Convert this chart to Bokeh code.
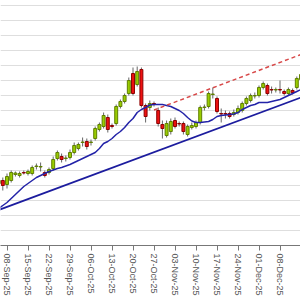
import pandas as pd
from bokeh.plotting import figure
from bokeh.models import Range1d, FixedTicker, ColumnDataSource
from bokeh.embed import file_html
from bokeh.resources import INLINE

# trading days, index 0 = 08-Sep-25
dates = pd.bdate_range("2025-09-04", "2025-12-15")
idx = list(range(-2, -2 + len(dates)))

opens = [63.4, 64.0, 63.2, 64.0, 65.2, 65.0, 65.6, 65.4, 65.4, 66.8, 66.7, 65.6, 65.6,
         66.4, 68.4, 68.8, 68.4, 68.6, 69.6, 70.4, 71.6, 71.8, 71.6,
         72.4, 74.2, 74.8, 76.6, 75.0, 75.4, 78.8, 79.8, 81.4, 85.4,
         83.2, 86.2, 79.0, 78.6, 79.4, 78.0, 75.2, 73.0, 73.8, 76.0,
         75.4, 75.4, 73.2, 74.6, 74.8, 75.6, 78.6, 78.8, 81.2, 80.4,
         77.4, 77.4, 77.4, 77.2, 77.6, 78.0, 79.4, 80.0, 80.9, 81.0,
         82.6, 83.0, 82.2, 82.1, 82.2, 81.8, 81.4, 82.0, 82.6, 84.2]
closes = [64.0, 63.0, 64.8, 65.6, 65.5, 65.4, 65.5, 65.8, 66.6, 66.9, 66.8, 65.0, 66.2,
          68.2, 69.6, 68.2, 68.5, 69.6, 71.0, 71.2, 71.7, 70.8, 71.7,
          74.4, 75.2, 77.0, 74.2, 74.8, 78.8, 79.8, 81.0, 84.0, 81.4,
          85.8, 79.0, 76.8, 79.4, 79.3, 75.4, 74.4, 75.4, 75.8, 74.8,
          75.3, 73.8, 74.8, 75.0, 75.6, 78.6, 78.7, 81.4, 81.3, 77.8,
          77.3, 77.3, 76.8, 77.6, 78.4, 79.4, 80.4, 81.0, 81.0, 82.6,
          83.4, 81.4, 82.1, 82.2, 82.1, 81.4, 82.2, 81.6, 84.4, 85.2]
highs = [64.4, 64.6, 65.4, 66.0, 65.8, 65.8, 66.0, 66.2, 67.0, 67.4, 67.6, 66.0, 66.6,
         68.8, 70.0, 69.4, 69.0, 70.2, 71.6, 71.6, 72.6, 72.4, 72.2,
         74.8, 75.6, 77.6, 77.2, 75.4, 79.2, 80.2, 81.4, 84.6, 86.6,
         86.8, 86.6, 79.4, 80.0, 79.8, 78.6, 76.0, 76.0, 76.4, 76.6,
         75.8, 75.8, 75.2, 75.6, 76.0, 79.0, 79.2, 81.8, 82.6, 80.8,
         78.4, 78.0, 77.8, 78.2, 79.0, 79.8, 80.8, 81.4, 81.6, 83.0,
         83.8, 83.4, 82.8, 82.6, 84.0, 82.2, 82.6, 82.4, 84.8, 85.6]
lows = [62.8, 62.0, 62.4, 63.6, 64.8, 64.6, 65.2, 65.0, 65.0, 66.2, 65.8, 64.6, 65.2,
        66.0, 68.0, 67.6, 67.8, 68.2, 69.2, 70.0, 70.8, 70.2, 71.0,
        72.0, 73.8, 74.4, 73.6, 74.4, 75.0, 78.4, 79.4, 81.0, 81.0,
        82.8, 78.6, 75.6, 78.0, 78.8, 74.8, 72.4, 72.6, 73.2, 74.4,
        74.8, 73.2, 72.8, 74.2, 74.4, 75.2, 78.0, 78.4, 80.4, 77.4,
        75.6, 76.4, 76.4, 76.8, 77.2, 77.6, 79.0, 79.6, 80.4, 80.6,
        82.2, 81.0, 81.4, 81.6, 81.4, 81.0, 81.0, 81.2, 82.2, 83.8]
moving_avg = [58.4, 59.0, 59.6, 60.4, 61.2, 62.0, 62.8, 63.4, 64.0, 64.6, 65.0, 65.4, 65.8,
              66.1, 66.4, 66.6, 66.9, 67.2, 67.6, 68.0, 68.4, 68.8, 69.2,
              69.6, 70.4, 71.4, 71.8, 72.4, 73.2, 73.8, 74.6, 75.6, 76.4,
              77.6, 78.2, 78.6, 79.1, 79.2, 79.2, 79.2, 79.0, 78.8, 78.4,
              78.0, 77.4, 76.6, 75.9, 75.6, 75.6, 75.7, 75.8, 76.2, 76.8,
              77.0, 77.1, 77.2, 77.3, 77.6, 78.2, 78.6, 79.0, 79.2, 79.6,
              79.6, 79.6, 79.8, 80.0, 80.2, 80.6, 81.0, 81.4, 81.8, 82.2]

support_dates = ["2025-09-04", "2025-12-15"]
support_vals = [58.1, 80.6]
resist_dates = ["2025-10-27", "2025-12-15"]
resist_vals = [78.1, 89.2]

grid_levels = [99, 96, 93, 90, 87, 84, 81, 78, 75, 72, 69, 66, 63, 60, 57, 54]

pos = {d.strftime("%Y-%m-%d"): i for d, i in zip(dates, idx)}
mondays = [i for d, i in zip(dates, idx) if d.weekday() == 0]
tick_labels = {i: d.strftime("%d-%b-%y") for d, i in zip(dates, idx) if d.weekday() == 0}

up = [c >= o for o, c in zip(opens, closes)]
src = ColumnDataSource(dict(
    x=idx, o=opens, c=closes, h=highs, l=lows, ma=moving_avg,
    top=[max(o, c) for o, c in zip(opens, closes)],
    bot=[min(o, c) for o, c in zip(opens, closes)],
    fill=["#99cc00" if u else "#ee1111" for u in up],
    line=["#5f7f00" if u else "#8c0000" for u in up],
))

p = figure(frame_width=300, frame_height=245, x_range=Range1d(-1.548, 69.88),
           y_range=Range1d(51, 100), output_backend="svg", toolbar_location=None,
           min_border=0)
p.outline_line_color = None
p.background_fill_color = "white"
p.border_fill_color = "white"

p.yaxis.visible = False
p.ygrid.ticker = FixedTicker(ticks=grid_levels)
p.ygrid.grid_line_color = "#dedede"
p.ygrid.grid_line_width = 1
p.xgrid.visible = False

ax = p.xaxis[0]
ax.ticker = FixedTicker(ticks=mondays)
ax.major_label_overrides = tick_labels
ax.major_label_orientation = "vertical"
ax.major_label_text_font = "Liberation Sans"
ax.major_label_text_font_size = "9px"
ax.major_label_text_color = "#555555"
ax.major_label_standoff = 3
ax.major_tick_in = 0
ax.major_tick_out = 5
ax.minor_tick_line_color = None
ax.axis_line_color = "#777777"
ax.major_tick_line_color = "#777777"

p.segment(x0="x", y0="h", x1="x", y1="l", source=src, line_color="#666666", line_width=1)
p.vbar(x="x", top="top", bottom="bot", width=0.7, source=src,
       fill_color="fill", line_color="line", line_width=1)

p.line(x="x", y="ma", source=src, line_color="#2323a8", line_width=1.5)
p.line([pos[d] for d in support_dates], support_vals, line_color="#1c1c9e", line_width=1.8)
p.line([pos[d] for d in resist_dates], resist_vals, line_color="#d84848", line_width=1.5,
       line_dash="4 3")

open("out.html", "w").write(file_html(p, INLINE))
